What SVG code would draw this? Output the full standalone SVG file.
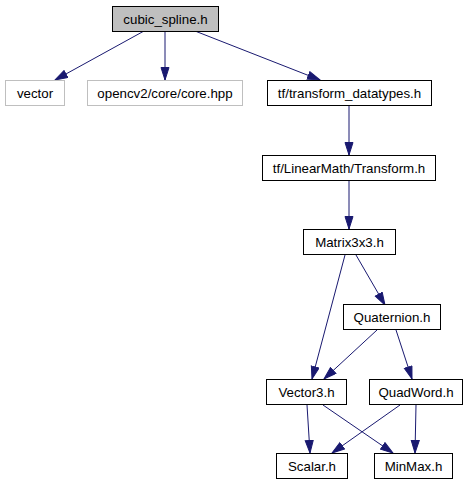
<svg xmlns="http://www.w3.org/2000/svg" width="469" height="485" viewBox="0 0 469 485">
<style>
.n rect{fill:#fff;stroke:#000;stroke-width:1}
.n.g rect{stroke:#bfbfbf}
.n.root rect{fill:#bfbfbf}
.n text{font-family:"Liberation Sans",Arial,sans-serif;font-size:13.3px;text-anchor:middle;fill:#000}
#edges path{fill:none;stroke:#191970;stroke-width:1;marker-end:url(#arr)}
</style>
<defs>
<marker id="arr" markerUnits="userSpaceOnUse" markerWidth="14" markerHeight="10" refX="13" refY="4.5" orient="auto">
<path d="M0.5,0.5 L13,4.5 L0.5,8.5 z" fill="#191970" stroke="#191970" stroke-width="1"/>
</marker>
</defs>
<rect width="469" height="485" fill="#fff"/>
<g id="edges">
<path d="M144,31 L55,80"/>
<path d="M165,31 L165,80"/>
<path d="M195,31 L320,80"/>
<path d="M349,106 L349,155"/>
<path d="M349,181 L349,229"/>
<path d="M345,255 L312,379"/>
<path d="M356,255 L385,305"/>
<path d="M377,330 L324,379"/>
<path d="M396,330 L412,379"/>
<path d="M307,405 L310,453"/>
<path d="M323,405 L393,453"/>
<path d="M400,405 L332,453"/>
<path d="M416,405 L415,453"/>
</g>
<g id="cubic_spline" class="n root"><rect x="112.5" y="6.5" width="106" height="25"/><text x="165.5" y="23.5">cubic_spline.h</text></g>
<g id="vector" class="n g"><rect x="5.5" y="80.5" width="59" height="25"/><text x="35" y="97.5">vector</text></g>
<g id="opencv" class="n g"><rect x="87.5" y="80.5" width="155" height="25"/><text x="165" y="97.5">opencv2/core/core.hpp</text></g>
<g id="tf_datatypes" class="n"><rect x="267.5" y="80.5" width="164" height="25"/><text x="349.5" y="97.5">tf/transform_datatypes.h</text></g>
<g id="transform" class="n"><rect x="262.5" y="155.5" width="173" height="25"/><text x="349" y="172.5">tf/LinearMath/Transform.h</text></g>
<g id="matrix" class="n"><rect x="303.5" y="229.5" width="92" height="25"/><text x="349.5" y="246.5">Matrix3x3.h</text></g>
<g id="quaternion" class="n"><rect x="343.5" y="304.5" width="97" height="25"/><text x="392" y="321.5">Quaternion.h</text></g>
<g id="vector3" class="n"><rect x="266.5" y="379.5" width="80" height="25"/><text x="306.5" y="396.5">Vector3.h</text></g>
<g id="quadword" class="n"><rect x="369.5" y="379.5" width="93" height="25"/><text x="416" y="396.5">QuadWord.h</text></g>
<g id="scalar" class="n"><rect x="276.5" y="453.5" width="71" height="25"/><text x="312" y="470.5">Scalar.h</text></g>
<g id="minmax" class="n"><rect x="374.5" y="453.5" width="78" height="25"/><text x="413.5" y="470.5">MinMax.h</text></g>
</svg>
